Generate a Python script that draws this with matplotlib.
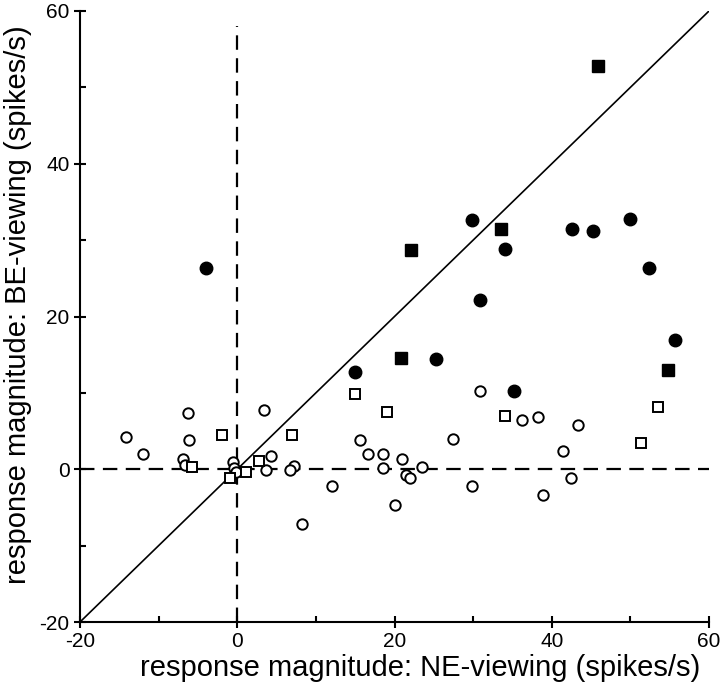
import matplotlib
matplotlib.use('Agg')
import matplotlib.pyplot as plt
from matplotlib.ticker import MultipleLocator

plt.rcParams['font.family'] = ['Liberation Sans', 'DejaVu Sans']
plt.rcParams['axes.unicode_minus'] = False

# filled circles
fc_x = [-4.0, 15.0, 25.3, 29.8, 34.0, 42.6, 45.2, 49.9, 52.4, 30.9, 55.7, 35.2]
fc_y = [26.3, 12.7, 14.4, 32.6, 28.8, 31.4, 31.2, 32.8, 26.3, 22.2, 16.9, 10.2]

# filled squares
fs_x = [45.9, 33.6, 22.1, 20.8, 54.8]
fs_y = [52.8, 31.4, 28.7, 14.6, 13.0]

# open squares
os_x = [15.0, 19.0, 34.0, 53.5, 51.4, 7.0, -5.8, -1.9, -0.9, 1.1, 2.8]
os_y = [9.8, 7.5, 7.0, 8.2, 3.4, 4.5, 0.3, 4.5, -1.2, -0.4, 1.1]

# open circles
oc_x = [3.35, 30.9, 36.2, 38.3, 43.4, 41.4, 42.5, 38.9, 29.9, 27.4, 15.6,
        4.3, 3.6, 7.2, 6.7, 16.6, 18.6, 18.6, 21.0, 23.5, 21.4, 22.0, 12.1,
        20.1, 8.2, -14.2, -12.0, -6.3, -6.1, -6.9, -6.7, -0.5, -0.4, -0.2]
oc_y = [7.7, 10.2, 6.5, 6.8, 5.8, 2.4, -1.1, -3.4, -2.2, 4.0, 3.8,
        1.7, -0.1, 0.4, -0.1, 2.0, 2.0, 0.1, 1.3, 0.3, -0.8, -1.1, -2.2,
        -4.7, -7.2, 4.2, 2.0, 7.3, 3.8, 1.3, 0.5, 0.9, 0.1, -0.4]

lo, hi = -20, 60

fig = plt.figure(figsize=(7.2, 6.97), dpi=100)
ax = fig.add_axes([80 / 720, 1 - 622 / 697, 629 / 720, 611 / 697])

ax.plot([lo, hi], [lo, hi], color='black', lw=1.2, zorder=1)
ax.plot([0, 0], [lo, 58], color='black', lw=1.6, dashes=(6.5, 3.8), zorder=1)
ax.plot([lo, hi], [0, 0], color='black', lw=1.6, dashes=(6.5, 3.8), zorder=1)

ax.plot(oc_x, oc_y, 'o', ms=7.5, mfc='white', mec='black', mew=1.4, ls='none', zorder=3)
ax.plot(os_x, os_y, 's', ms=7.8, mfc='white', mec='black', mew=1.4, ls='none', zorder=3)
ax.plot(fc_x, fc_y, 'o', ms=9.0, color='black', ls='none', zorder=4)
ax.plot(fs_x, fs_y, 's', ms=8.6, color='black', ls='none', zorder=4)

ax.set_xlim(lo, hi)
ax.set_ylim(lo, hi)
ax.spines['top'].set_visible(False)
ax.spines['right'].set_visible(False)
for s in ['left', 'bottom']:
    ax.spines[s].set_linewidth(1.5)

ax.xaxis.set_major_locator(MultipleLocator(20))
ax.yaxis.set_major_locator(MultipleLocator(20))
ax.xaxis.set_minor_locator(MultipleLocator(10))
ax.yaxis.set_minor_locator(MultipleLocator(10))
ax.tick_params(which='major', direction='inout', length=9, width=1.5,
               labelsize=15, pad=3)
ax.tick_params(which='minor', direction='in', length=4, width=1.5)

ax.set_xlabel('response magnitude: NE-viewing (spikes/s)', fontsize=21)
ax.set_ylabel('response magnitude: BE-viewing (spikes/s)', fontsize=21)
ax.xaxis.set_label_coords(0.54, -0.052)
ax.yaxis.set_label_coords(-0.077, 0.52)

fig.savefig('out.png', dpi=100)
plt.close(fig)
